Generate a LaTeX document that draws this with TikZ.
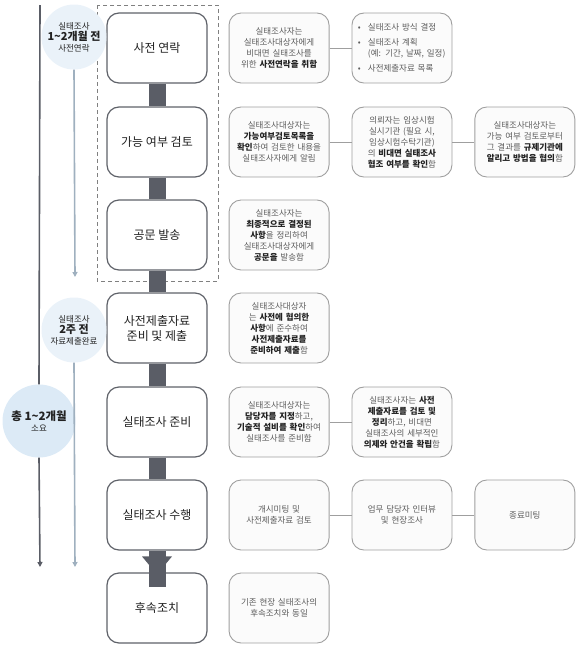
\documentclass[tikz,border=0pt]{standalone}
\usepackage{fontspec}
\setmainfont{Noto Sans CJK KR}
\usetikzlibrary{positioning,arrows.meta}

\definecolor{barc}{HTML}{5A5D66}
\definecolor{linec}{HTML}{5F6269}
\definecolor{timec}{HTML}{9FB0BF}
\definecolor{circc}{HTML}{EAF2F9}
\definecolor{bigcircc}{HTML}{DCEAF6}
\definecolor{txtc}{HTML}{5C5C5C}
\definecolor{kwc}{HTML}{222222}
\newcommand{\kw}[1]{\textbf{\color{kwc}#1}}

\begin{document}
\begin{tikzpicture}[x=1pt,y=-1pt,
    stage/.style={draw=linec,line width=1.2pt,rounded corners=12pt,fill=white,minimum width=100pt,minimum height=70pt,align=center,font=\fontsize{12}{15}\selectfont,text=kwc},
    note/.style={draw=gray!75,line width=0.9pt,rounded corners=12pt,fill=gray!3,minimum width=100pt,minimum height=70pt,text width=88pt,align=center,font=\fontsize{8.5}{11}\selectfont,text=txtc},
    period/.style={circle,fill=circc,minimum size=65pt,inner sep=0pt,align=center,font=\fontsize{8.5}{11}\selectfont,text=kwc},
    link/.style={draw=gray!75,line width=0.9pt},
    bar/.style={draw=barc,line width=17pt},
    timeline/.style={line width=1.6pt,-{Triangle[length=5pt,width=5pt]}}]
    \useasboundingbox (0,0) rectangle (581,651);
    %\draw[help lines] (0,0) grid[step=50] (581,651);
    \draw[gray,line width=0.9pt,dash pattern=on 4pt off 3pt] (97,5) rectangle (218,281);

    % main steps
    \node[stage] (s1) at (157,48) {사전 연락};
    \node[stage] (s2) at (157,142) {가능 여부 검토};
    \node[stage] (s3) at (157,235) {공문 발송};
    \node[stage] (s4) at (157,328) {사전제출자료\\준비 및 제출};
    \node[stage] (s5) at (157,422) {실태조사 준비};
    \node[stage] (s6) at (157,515) {실태조사 수행};
    \node[stage] (s7) at (157,608) {후속조치};

    % notes
    \node[note,right=21pt of s1] (n1) {실태조사자는\\실태조사대상자에게\\비대면 실태조사를\\위한 \kw{사전연락을 취함}};
    \node[note,right=22pt of n1,align=left] (n1b) {\makebox[10pt][l]{•}실태조사 방식 결정\\[4pt]
        \makebox[10pt][l]{•}실태조사 계획\\\hspace*{10pt}(예: 기간, 날짜, 일정)\\[4pt]
        \makebox[10pt][l]{•}사전제출자료 목록};
    \node[note,right=21pt of s2] (n2) {실태조사대상자는\\\kw{가능여부검토목록을}\\\kw{확인}하여 검토한 내용을\\실태조사자에게 알림};
    \node[note,right=22pt of n2] (n2b) {의뢰자는 임상시험\\실시기관 (필요 시,\\임상시험수탁기관)\\의 \kw{비대면 실태조사}\\\kw{협조 여부를 확인}함};
    \node[note,right=22pt of n2b] (n2c) {실태조사대상자는\\가능 여부 검토로부터\\그 결과를 \kw{규제기관에}\\\kw{알리고 방법을 협의}함};
    \node[note,right=21pt of s3] (n3) {실태조사자는\\\kw{최종적으로 결정된}\\\kw{사항}을 정리하여\\실태조사대상자에게\\\kw{공문을} 발송함};
    \node[note,right=21pt of s4] (n4) {실태조사대상자\\는 \kw{사전에 협의한}\\\kw{사항}에 준수하여\\\kw{사전제출자료를}\\\kw{준비하여 제출}함};
    \node[note,right=21pt of s5] (n5) {실태조사대상자는\\\kw{담당자를 지정}하고,\\\kw{기술적 설비를 확인}하여\\실태조사를 준비함};
    \node[note,right=22pt of n5] (n5b) {실태조사자는 \kw{사전}\\\kw{제출자료를 검토 및}\\\kw{정리}하고, 비대면\\실태조사의 세부적인\\\kw{의제와 안건을 확립}함};
    \node[note,right=21pt of s6] (n6) {개시미팅 및\\사전제출자료 검토};
    \node[note,right=22pt of n6] (n6b) {업무 담당자 인터뷰\\및 현장조사};
    \node[note,right=22pt of n6b] (n6c) {종료미팅};
    \node[note,right=21pt of s7] (n7) {기존 현장 실태조사의\\후속조치와 동일};

    \draw[link] (n1) -- (n1b);
    \draw[link] (n2) -- (n2b);
    \draw[link] (n2b) -- (n2c);
    \draw[link] (n5) -- (n5b);
    \draw[link] (n6) -- (n6b);
    \draw[link] (n6b) -- (n6c);

    \draw[bar] (s1.south) -- (s2.north);
    \draw[bar] (s2.south) -- (s3.north);
    \draw[bar] (s3.south) -- (s4.north);
    \draw[bar] (s4.south) -- (s5.north);
    \draw[bar] (s5.south) -- (s6.north);
    \draw[bar] (s6.south) -- ([yshift=-15pt]s7.north);
    \fill[barc] ([shift={(-15,-16)}]s7.north) -- ([shift={(15,-16)}]s7.north) -- ([yshift=-2pt]s7.north) -- cycle;

    % time line
    \node[period] (p1) at (74,37) {실태조사\\{\fontsize{11}{13}\selectfont\bfseries 1\textasciitilde 2개월 전}\\사전연락};
    \node[period] (p2) at (74,330) {실태조사\\{\fontsize{11}{13}\selectfont\bfseries 2주 전}\\자료제출완료};
    \node[period,fill=bigcircc,minimum size=73pt] (p3) at (39,421) {{\fontsize{11.5}{14}\selectfont\bfseries 총 1\textasciitilde 2개월}\\소요};
    \coordinate (t0) at (40,5);
    \coordinate (t1) at (40,567);
    \coordinate (u1) at (75,277);
    \coordinate (u2) at (75,567);
    \draw[barc,line width=1.6pt] (t0) -- (p3.north);
    \draw[barc,timeline] (p3.south) -- (t1);
    \draw[timec,timeline] (p1.south) -- (u1);
    \draw[timec,timeline] (p2.south) -- (u2);
\end{tikzpicture}
\end{document}
